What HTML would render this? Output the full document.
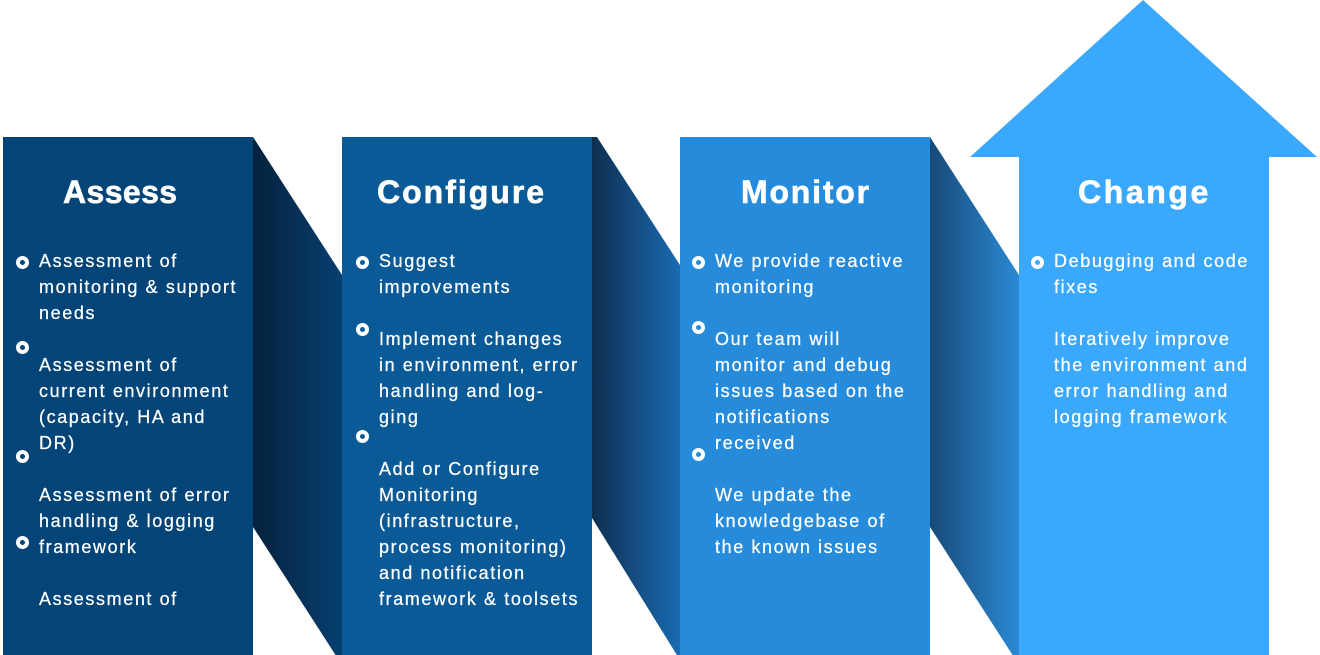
<!DOCTYPE html>
<html><head><meta charset="utf-8">
<style>
html,body{margin:0;padding:0;background:#fff;}
body{width:1320px;height:655px;position:relative;overflow:hidden;font-family:"Liberation Sans",sans-serif;}
svg{position:absolute;left:0;top:0;}
.t{position:absolute;color:#fff;font-weight:bold;font-size:32px;line-height:40px;white-space:nowrap;top:172px;-webkit-text-stroke:0.6px #fff;}
.b{position:absolute;color:#fff;font-size:18px;line-height:26px;letter-spacing:1.6px;white-space:pre;top:248px;-webkit-text-stroke:0.25px #fff;}
.d{position:absolute;width:5px;height:5px;border:4.5px solid #fff;border-radius:50%;}
</style></head><body>
<svg width="1320" height="655" viewBox="0 0 1320 655">
<defs>
<linearGradient id="g1" x1="0" x2="1" y1="0" y2="0"><stop offset="0" stop-color="#05213d"/><stop offset="1" stop-color="#063f6f"/></linearGradient>
<linearGradient id="g2" x1="0" x2="1" y1="0" y2="0"><stop offset="0" stop-color="#0e2f50"/><stop offset="1" stop-color="#1a6ab2"/></linearGradient>
<linearGradient id="g3" x1="0" x2="1" y1="0" y2="0"><stop offset="0" stop-color="#174a78"/><stop offset="1" stop-color="#2a8ad4"/></linearGradient>
</defs>
<polygon points="253,137 342,275 342,665 253,527" fill="url(#g1)"/>
<polygon points="592,137 597,137 680,265 680,660 592,518" fill="url(#g2)"/>
<polygon points="930,137 1019,275 1019,665 930,527" fill="url(#g3)"/>
<rect x="3" y="137" width="250" height="518" fill="#034578"/>
<rect x="342" y="137" width="250" height="518" fill="#0b5a98"/>
<rect x="680" y="137" width="250" height="518" fill="#268bdb"/>
<polygon points="1143,0 1317,157 1269,157 1269,655 1019,655 1019,157 970,157" fill="#3aa8fd"/>
</svg>

<div class="t" style="left:63px;letter-spacing:0.4px;">Assess</div>
<div class="t" style="left:377px;letter-spacing:2px;">Configure</div>
<div class="t" style="left:741px;letter-spacing:1.8px;">Monitor</div>
<div class="t" style="left:1078px;letter-spacing:2.6px;">Change</div>

<div class="b" style="left:39px;">Assessment of
monitoring &amp; support
needs

Assessment of
current environment
(capacity, HA and
DR)

Assessment of error
handling &amp; logging
framework

Assessment of</div>

<div class="b" style="left:379px;">Suggest
improvements

Implement changes
in environment, error
handling and log-
ging

Add or Configure
Monitoring
(infrastructure,
process monitoring)
and notification
framework &amp; toolsets</div>

<div class="b" style="left:715px;">We provide reactive
monitoring

Our team will
monitor and debug
issues based on the
notifications
received

We update the
knowledgebase of
the known issues</div>

<div class="b" style="left:1054px;">Debugging and code
fixes

Iteratively improve
the environment and
error handling and
logging framework</div>

<div class="d" style="left:16px;top:256px;"></div>
<div class="d" style="left:16px;top:341px;"></div>
<div class="d" style="left:16px;top:450px;"></div>
<div class="d" style="left:16px;top:536px;"></div>

<div class="d" style="left:356px;top:256px;"></div>
<div class="d" style="left:356px;top:323px;"></div>
<div class="d" style="left:356px;top:430px;"></div>

<div class="d" style="left:692px;top:256px;"></div>
<div class="d" style="left:692px;top:321px;"></div>
<div class="d" style="left:692px;top:448px;"></div>

<div class="d" style="left:1031px;top:256px;"></div>
</body></html>
